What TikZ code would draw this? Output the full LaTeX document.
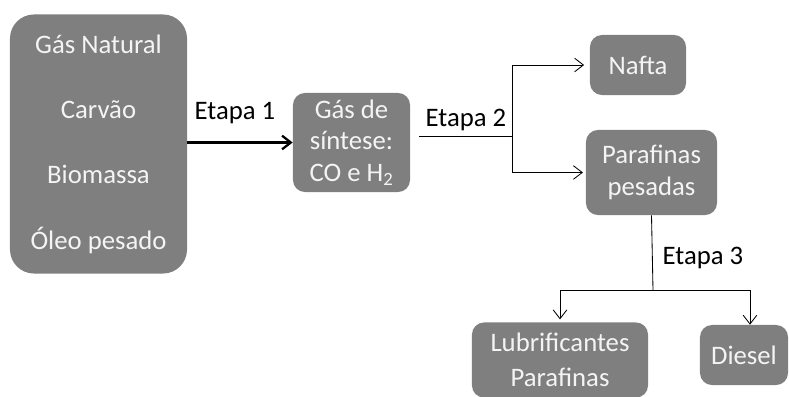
\documentclass[tikz,border=0pt]{standalone}
\usepackage{fontspec}
\setmainfont{Carlito}
\usetikzlibrary{arrows.meta}
\definecolor{boxgray}{HTML}{7F7F7F}
\definecolor{boxtext}{HTML}{F4F4F4}

\tikzset{
    procbox/.style={fill=boxgray, text=boxtext, rounded corners=0.3cm, align=center, inner sep=0pt},
    lbl/.style={text=black, inner sep=0pt},
    flow/.style={black, semithick, >={Straight Barb[length=2.2mm,width=3.4mm]}, ->},
}

\begin{document}
\begin{tikzpicture}[x=0.025cm, y=-0.025cm, font=\fontsize{19}{22.5}\selectfont]
        \useasboundingbox (0,0) rectangle (789,396);

        % boxes
        \node[procbox, rounded corners=0.6cm, minimum width=4.425cm, minimum height=6.475cm] (src) at (98.5,144)
            {Gás Natural\\[24pt]Carvão\\[24pt]Biomassa\\[24pt]Óleo pesado};
        \node[procbox, minimum width=2.925cm, minimum height=2.475cm] (syn) at (351.5,142.5)
            {Gás de\\síntese:\\CO e H\textsubscript{2}};
        \node[procbox, minimum width=2.4cm, minimum height=1.5cm] (naf) at (638,65) {Nafta};
        \node[procbox, minimum width=3.275cm, minimum height=2.125cm] (par) at (651.5,172.5) {Parafinas\\pesadas};
        \node[procbox, minimum width=4.4cm, minimum height=1.875cm] (lub) at (560,360) {Lubrificantes\\[2pt]Parafinas};
        \node[procbox, minimum width=2.2cm, minimum height=1.5cm] (dsl) at (744,355) {Diesel};

        % labels
        \node[lbl] (et1) at (235,113) {Etapa 1};
        \node[lbl] (et2) at (466,120) {Etapa 2};
        \node[lbl] (et3) at (703,258) {Etapa 3};

        % etapa 1
        \draw [flow, line width=1.6pt] (src.east |- syn.west) -- (syn.west);

        % etapa 2
        \coordinate (e2start) at (419,136);
        \coordinate (fork2) at (512,136);
        \draw [black, semithick] (e2start) -- (fork2);
        \draw [flow, shorten >=4pt] (fork2) |- (naf.west);
        \draw [flow, shorten >=2pt] (fork2) |- (par.west);

        % etapa 3
        \coordinate (fork3) at (653,290);
        \draw [black, semithick] (par.south) -- (fork3);
        \draw [flow, shorten >=2pt] (fork3) -| (lub.north);
        \draw [flow] (fork3) -| ([xshift=1.5mm]dsl.north);
    \end{tikzpicture}
\end{document}
